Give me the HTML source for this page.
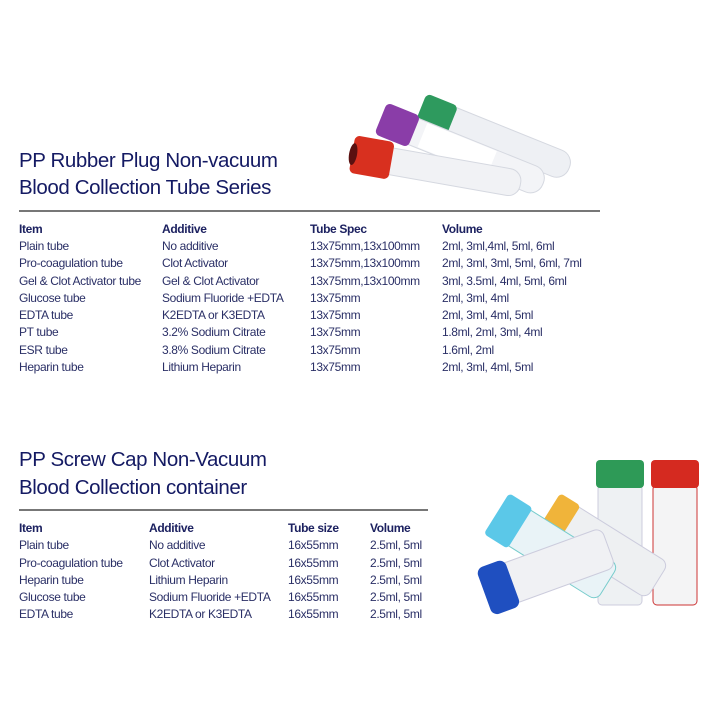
<!DOCTYPE html>
<html><head><style>
body{margin:0;width:726px;height:726px;background:#fff;position:relative;overflow:hidden;font-family:"Liberation Sans",sans-serif;color:#1c2160}
.t{position:absolute;font-size:20.5px;letter-spacing:-0.4px;line-height:1;white-space:nowrap;color:#141a63}
.r{position:absolute;font-size:12px;letter-spacing:-0.35px;line-height:1;white-space:nowrap;color:#2a2f66}
.h{font-weight:bold;color:#1c2160}
.line{position:absolute;height:2px;background:#777}
</style></head><body>
<div class="t" style="left:19px;top:151px">PP Rubber Plug Non-vacuum</div>
<div class="t" style="left:19px;top:178px">Blood Collection Tube Series</div>
<div class="line" style="left:19px;top:210px;width:581px"></div>

<div class="t" style="left:19px;top:450px">PP Screw Cap Non-Vacuum</div>
<div class="t" style="left:19px;top:478px">Blood Collection container</div>
<div class="line" style="left:19px;top:509px;width:409px"></div>

<div id="tbl"></div>

<svg style="position:absolute;left:0;top:0" width="726" height="726">
<!-- top tubes -->
<g transform="translate(430,112) rotate(22)">
 <rect x="0" y="-14" width="150" height="28" rx="13" fill="#eef0f4" stroke="#d5d8e0"/>
 <rect x="-10" y="-16" width="34" height="32" rx="5" fill="#2e9a5e"/>
</g>
<g transform="translate(390,122) rotate(22)">
 <rect x="0" y="-14" width="165" height="28" rx="13" fill="#f3f4f7" stroke="#d5d8e0"/>
 <rect x="35" y="-13" width="75" height="26" fill="#fff"/>
 <rect x="-10" y="-17" width="36" height="34" rx="5" fill="#8a3da8"/>
</g>
<g transform="translate(358,155) rotate(10)">
 <rect x="0" y="-13" width="165" height="27" rx="12" fill="#f1f2f5" stroke="#d5d8e0"/>
 <rect x="-6" y="-19" width="40" height="38" rx="5" fill="#d8301f"/>
 <ellipse cx="-5" cy="0" rx="4" ry="11" fill="#5a1010"/>
</g>
<!-- bottom containers -->
<rect x="598" y="485" width="44" height="120" rx="4" fill="#eef1f3" stroke="#ccd"/>
<rect x="596" y="460" width="48" height="28" rx="4" fill="#2e9a57"/>
<rect x="653" y="485" width="44" height="120" rx="4" fill="#f4f4f5" stroke="#c33"/>
<rect x="651" y="460" width="48" height="28" rx="4" fill="#d52a20"/>
<g transform="translate(560,520) rotate(32)">
 <rect x="0" y="-21" width="115" height="42" rx="8" fill="#eef0f2" stroke="#ccd"/>
 <rect x="-14" y="-23" width="24" height="46" rx="4" fill="#f0b43a"/>
</g>
<g transform="translate(510,522) rotate(32)">
 <rect x="0" y="-21" width="115" height="42" rx="8" fill="#e9f3f7" stroke="#7cc"/>
 <rect x="-16" y="-24" width="28" height="48" rx="4" fill="#5bc8e8"/>
</g>
<g transform="translate(505,585) rotate(-20)">
 <rect x="0" y="-21" width="110" height="42" rx="8" fill="#f0f1f4" stroke="#ccd"/>
 <rect x="-22" y="-25" width="30" height="50" rx="7" fill="#1f4fc0"/>
</g>
</svg>
<script>
var d=document.getElementById('tbl');
function add(x,y,s,h){var e=document.createElement('div');e.className='r'+(h?' h':'');e.style.left=x+'px';e.style.top=(y-7)+'px';e.textContent=s;d.appendChild(e);}
var A=[["Item","Additive","Tube Spec","Volume"],
["Plain tube","No additive","13x75mm,13x100mm","2ml, 3ml,4ml, 5ml, 6ml"],
["Pro-coagulation tube","Clot Activator","13x75mm,13x100mm","2ml, 3ml, 3ml, 5ml, 6ml, 7ml"],
["Gel & Clot Activator tube","Gel & Clot Activator","13x75mm,13x100mm","3ml, 3.5ml, 4ml, 5ml, 6ml"],
["Glucose tube","Sodium Fluoride +EDTA","13x75mm","2ml, 3ml, 4ml"],
["EDTA tube","K2EDTA or K3EDTA","13x75mm","2ml, 3ml, 4ml, 5ml"],
["PT tube","3.2% Sodium Citrate","13x75mm","1.8ml, 2ml, 3ml, 4ml"],
["ESR tube","3.8% Sodium Citrate","13x75mm","1.6ml, 2ml"],
["Heparin tube","Lithium Heparin","13x75mm","2ml, 3ml, 4ml, 5ml"]];
var X=[19,162,310,442],Y=[230,247,264,282,299,316,333,351,368];
A.forEach(function(r,i){r.forEach(function(s,j){add(X[j],Y[i],s,i==0)})});
var B=[["Item","Additive","Tube size","Volume"],
["Plain tube","No additive","16x55mm","2.5ml, 5ml"],
["Pro-coagulation tube","Clot Activator","16x55mm","2.5ml, 5ml"],
["Heparin tube","Lithium Heparin","16x55mm","2.5ml, 5ml"],
["Glucose tube","Sodium Fluoride +EDTA","16x55mm","2.5ml, 5ml"],
["EDTA tube","K2EDTA or K3EDTA","16x55mm","2.5ml, 5ml"]];
var X2=[19,149,288,370],Y2=[529,546,564,581,598,615];
B.forEach(function(r,i){r.forEach(function(s,j){add(X2[j],Y2[i],s,i==0)})});
</script>
</body></html>
